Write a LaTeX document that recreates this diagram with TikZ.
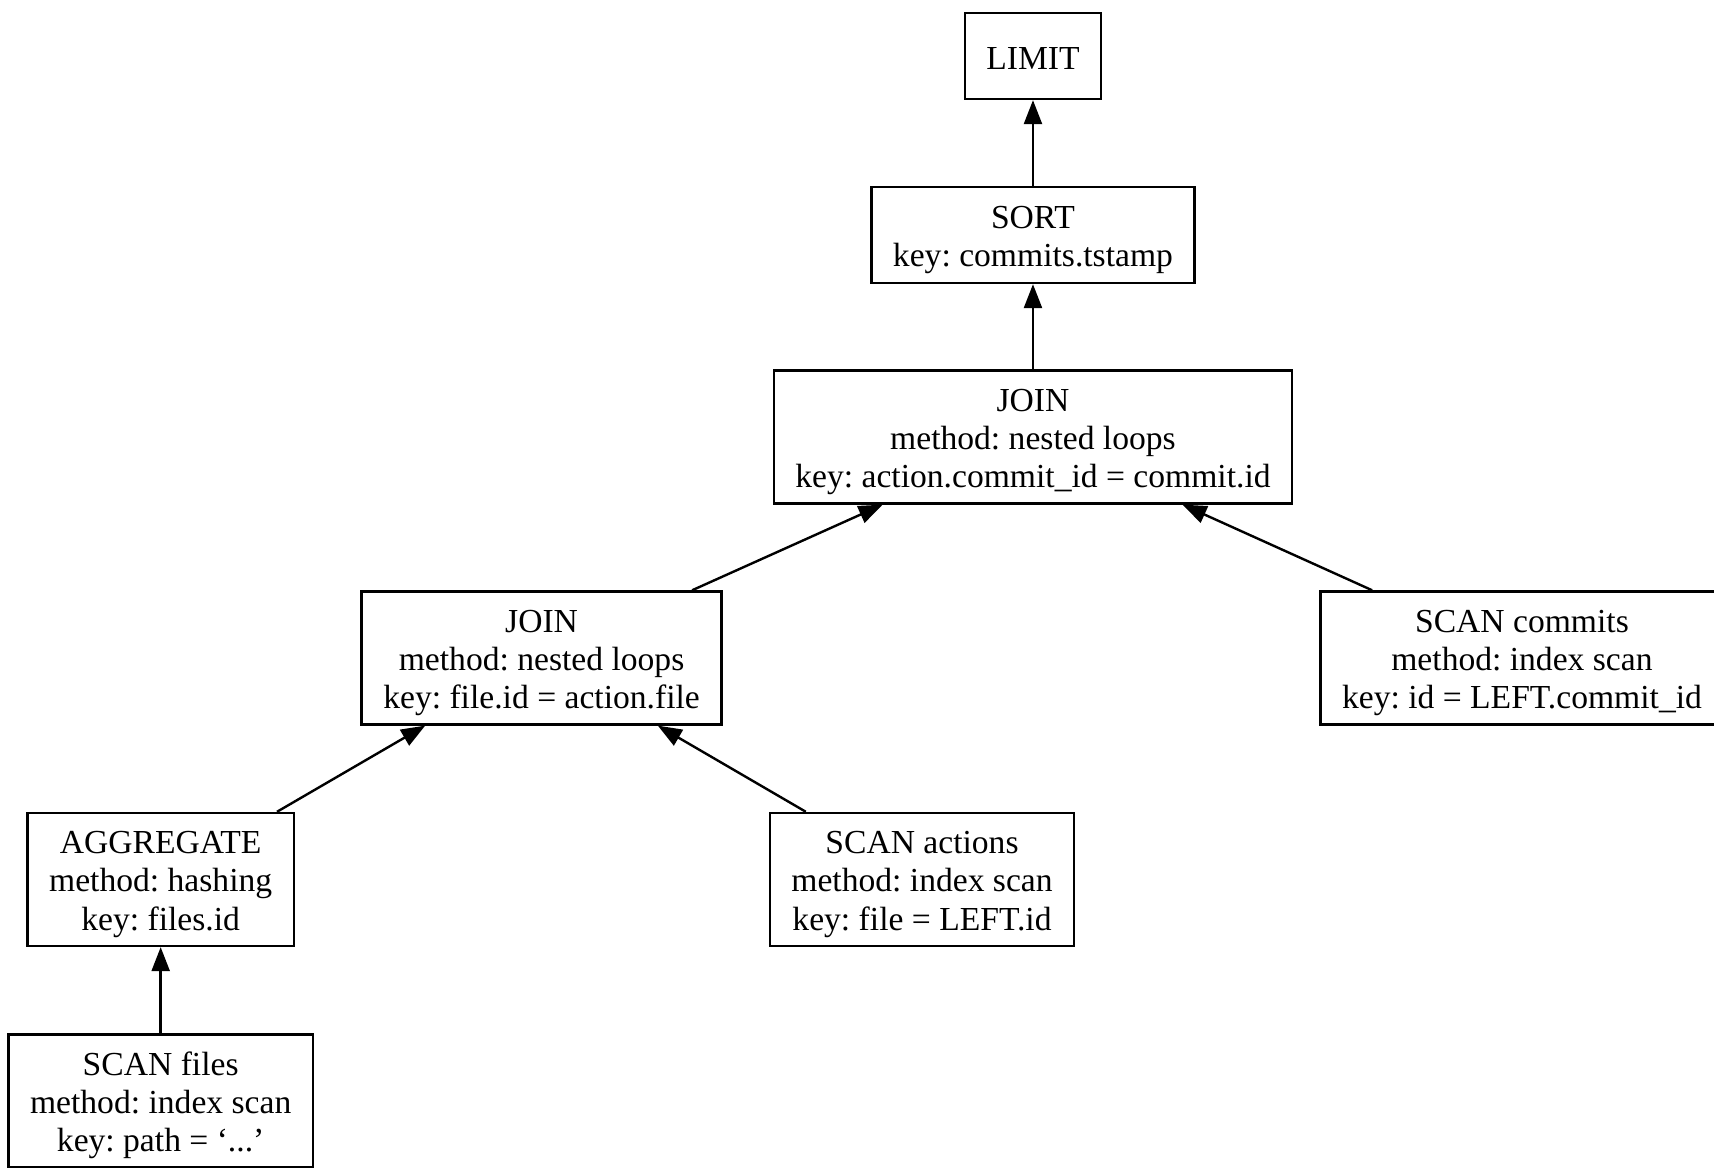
\documentclass[tikz,border=0pt]{standalone}
\usepackage{fontspec}
\setmainfont{Liberation Serif}
\usetikzlibrary{positioning}
\usetikzlibrary{arrows.meta}
\tikzset{>={Triangle[length=10pt, width=7.5pt]}}
\tikzset{planop/.style={draw, rectangle, line width=1pt, align=center, inner xsep=9pt, inner ysep=0pt,
    font=\fontsize{14}{16}\selectfont\frenchspacing}}
\tikzset{planop3/.style={planop, minimum height=55.4pt}}
\newcommand\planstrut{\rule{0pt}{13.4pt}}

\begin{document}
\begin{tikzpicture}[line width=1pt]
\useasboundingbox (0,0) rectangle (25.100,-17.090);
\clip (0,0) rectangle (25.100,-17.090);
\begin{scope}[on grid]

\node[planop, minimum width=54pt, minimum height=35.8pt, text height=11pt] (limit) at (15.127, -0.820) {LIMIT};
\node[planop, minimum height=40pt] (sort) [below = 2.621 of limit] {\planstrut SORT\\key: commits.tstamp};
\node[planop3] (join1) [below = 2.958 of sort] {\planstrut JOIN\\method: nested loops\\key: action.commit\_id = commit.id};

\node[planop3] (join2) [below left = 3.236 and 7.196 of join1] {\planstrut JOIN\\method: nested loops\\key: file.id = action.file};
\node[planop3] (commits) [below right = 3.236 and 7.161 of join1] {\planstrut SCAN commits\\method: index scan\\key: id = LEFT.commit\_id};

\node[planop3] (agg) [below left = 3.244 and 5.578 of join2] {\planstrut AGGREGATE\\method: hashing\\key: files.id};
\node[planop3] (actions) [below right = 3.244 and 5.571 of join2] {\planstrut SCAN actions\\method: index scan\\key: file = LEFT.id};

\node[planop3] (files) [below = 3.244 of agg] {\planstrut SCAN files\\method: index scan\\key: path = ‘...’};


\draw[->] (sort) -- (limit);
\draw[->] (join1) -- (sort);
\draw[->] (join2) -- (join1);
\draw[->] (commits) -- (join1);
\draw[->] (agg) -- (join2);
\draw[->] (actions) -- (join2);
\draw[->] (files) -- (agg);
\end{scope}
\end{tikzpicture}
\end{document}
